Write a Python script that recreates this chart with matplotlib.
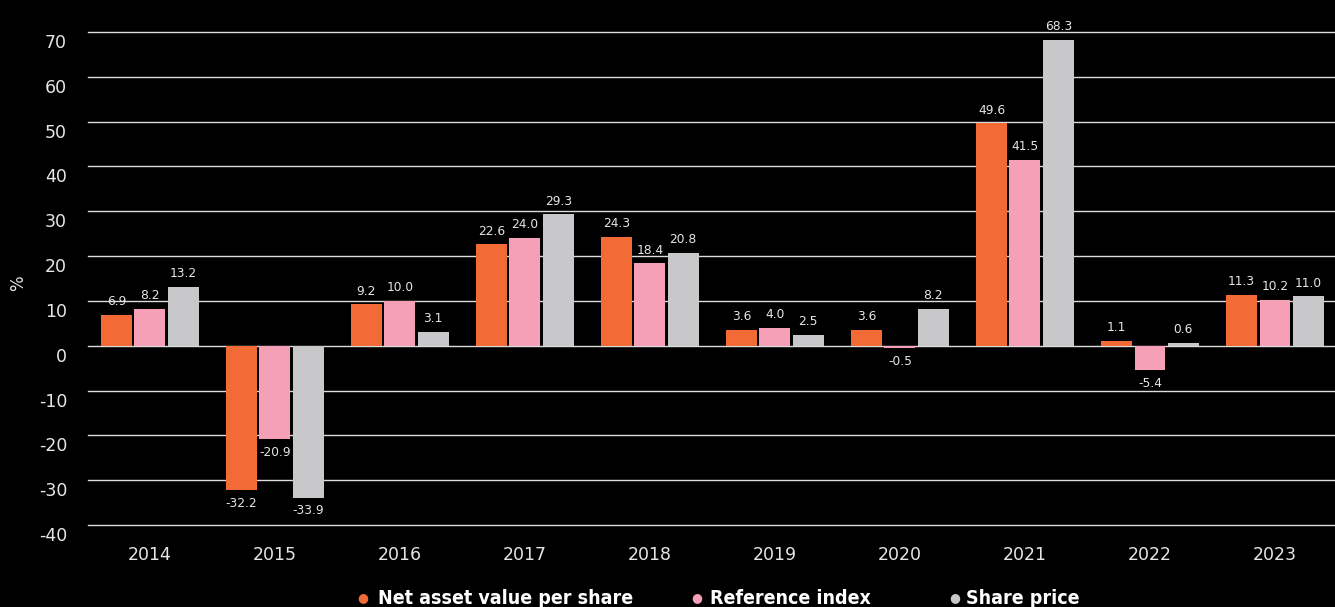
import matplotlib
matplotlib.use('Agg')
import matplotlib.pyplot as plt
import matplotlib.transforms as mtransforms
import numpy as np

# --- data ---
years = ['2014', '2015', '2016', '2017', '2018', '2019', '2020', '2021', '2022', '2023']
nav = [6.9, -32.2, 9.2, 22.6, 24.3, 3.6, 3.6, 49.6, 1.1, 11.3]
ref_index = [8.2, -20.9, 10.0, 24.0, 18.4, 4.0, -0.5, 41.5, -5.4, 10.2]
share_price = [13.2, -33.9, 3.1, 29.3, 20.8, 2.5, 8.2, 68.3, 0.6, 11.0]
series_names = ['Net asset value per share', 'Reference index', 'Share price']
yticks = list(range(-40, 80, 10))

colors = ['#f26a35', '#f5a0b6', '#c8c8ca']
BG = '#000000'
GRID = '#dcdcdc'
TXT = '#e6e6e6'

fig = plt.figure(figsize=(13.35, 6.07), dpi=100, facecolor=BG)
ax = fig.add_axes([88 / 1335, 1 - 525 / 607, 1 - 88 / 1335, (525 - 32) / 607])
ax.set_facecolor(BG)

x = np.arange(len(years))
step = 0.267
width = 0.247
for i, (vals, col) in enumerate(zip([nav, ref_index, share_price], colors)):
    xs = x + (i - 1) * step
    ax.bar(xs, vals, width=width, color=col, zorder=3)
    for xi, v in zip(xs, vals):
        off = 9.5 if v >= 0 else -9.5
        ax.annotate(f'{v:.1f}', (xi, v), xytext=(0, off), textcoords='offset points',
                    ha='center', va='center', fontsize=8.8, color=TXT, zorder=4)

for t in yticks:
    ax.axhline(t, color=GRID, lw=1.0, zorder=1, clip_on=False)

ax.set_xlim(-0.494, 9.48)
ax.set_ylim(-40, 70)
for s in ax.spines.values():
    s.set_visible(False)

ax.set_xticks(x, years)
ax.tick_params(axis='x', length=0, pad=15, labelsize=12.5, labelcolor=TXT)
ax.set_yticks([])

# y tick labels sit a little below their gridline
ytrans = mtransforms.offset_copy(ax.get_yaxis_transform(), fig=fig, x=-21, y=-11, units='dots')
for t in yticks:
    ax.text(0, t, str(t), transform=ytrans, ha='right', va='center',
            fontsize=12.5, color=TXT)

fig.text(18 / 1335, 1 - 283 / 607, '%', rotation=90, ha='center', va='center',
         fontsize=12, color=TXT)

# legend along the bottom
leg_dot_x = [363, 697, 955]
leg_txt_x = [378, 710, 966]
leg_y = 1 - 598 / 607
for name, col, dx, tx in zip(series_names, colors, leg_dot_x, leg_txt_x):
    fig.text(dx / 1335, leg_y, '\u25cf', color=col, fontsize=9, ha='center', va='center',
             family='DejaVu Sans')
    fig.text(tx / 1335, leg_y, name, color='white', fontsize=14, fontweight='bold',
             fontstretch='condensed', ha='left', va='center', family='DejaVu Sans')

fig.savefig('out.png', dpi=100, facecolor=BG)
